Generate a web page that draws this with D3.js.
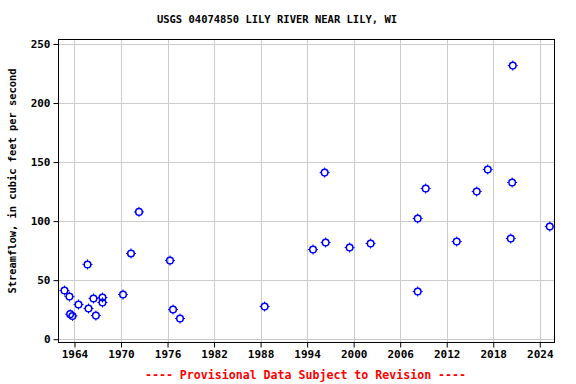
<!DOCTYPE html>
<html><head><meta charset="utf-8">
<script src="https://cdn.jsdelivr.net/npm/d3@7"></script>
<style>body{margin:0;background:#fff;} svg{display:block;} text{font-family:"DejaVu Sans Mono",monospace;font-weight:bold;}</style>
</head><body>
<script>
const years = [1962.71,1963.35,1963.44,1963.74,1964.52,1965.68,1965.81,1966.45,1966.76,1967.61,1967.61,1970.26,1971.29,1972.32,1976.32,1976.71,1977.61,
  1988.52,1994.76,1996.26,1996.39,1999.48,2002.19,
  2008.26,2008.26,2009.29,2013.29,2015.87,2017.29,2020.26,2020.44,2020.52,2025.29];
const flows = [41.2,36.1,21.2,19.7,29.4,63.3,26.0,34.5,20.0,35.3,31.1,37.8,72.6,107.8,66.6,25.1,17.5,
  27.7,75.9,141.1,81.9,77.6,81.0,
  40.4,102.2,127.6,82.7,125.1,143.7,85.3,132.7,231.7,95.4];
const xTicks = [1964,1970,1976,1982,1988,1994,2000,2006,2012,2018,2024];
const yTicks = [0,50,100,150,200,250];
const title = "USGS 04074850 LILY RIVER NEAR LILY, WI";
const yLabel = "Streamflow, in cubic feet per second";
const footer = "---- Provisional Data Subject to Revision ----";

const W=576,H=384, L=58.5, R=554.5, T=39.5, B=342.5;
const svg = d3.select("body").append("svg").attr("width",W).attr("height",H);
const x = d3.scaleLinear().domain([1961.94,2025.9]).range([L,R]);
const y = d3.scaleLinear().domain([-2.8,253.8]).range([B,T]);

// grid
svg.append("g").selectAll("line").data(xTicks).join("line")
  .attr("x1",d=>Math.round(x(d))+0.5).attr("x2",d=>Math.round(x(d))+0.5)
  .attr("y1",T).attr("y2",B).attr("stroke","#cccccc").attr("stroke-width",1);
svg.append("g").selectAll("line").data(yTicks).join("line")
  .attr("y1",d=>Math.round(y(d))+0.5).attr("y2",d=>Math.round(y(d))+0.5)
  .attr("x1",L).attr("x2",R).attr("stroke","#cccccc").attr("stroke-width",1);

// axes
const xa = svg.append("g").attr("transform",`translate(0,${B})`)
  .call(d3.axisBottom(x).tickValues(xTicks).tickFormat(d3.format("d")).tickSize(5).tickSizeOuter(0));
const ya = svg.append("g").attr("transform",`translate(${L},0)`)
  .call(d3.axisLeft(y).tickValues(yTicks).tickSize(5).tickSizeOuter(0));
[xa,ya].forEach(g=>{g.select(".domain").remove(); g.selectAll("line").attr("stroke","#000");
  g.selectAll("text").attr("font-size","11px").attr("font-weight","bold").attr("fill","#000")
   .style("font-family","'DejaVu Sans Mono',monospace");});
xa.selectAll("text").attr("dy","0.9em").attr("y",6);
ya.selectAll("text").attr("x",-8);

svg.append("rect").attr("x",L).attr("y",T).attr("width",R-L).attr("height",B-T)
  .attr("fill","none").attr("stroke","#000").attr("stroke-width",1);

// points
const pts = svg.append("g").selectAll("g").data(years.map((d,i)=>[d,flows[i]])).join("g")
  .attr("transform",d=>`translate(${x(d[0])},${y(d[1])})`);
pts.append("circle").attr("r",3.3).attr("fill","none").attr("stroke","#0000ff").attr("stroke-width",1.5);
[[0,-5,0,-3.5],[0,3.5,0,5],[-5,0,-3.5,0],[3.5,0,5,0]].forEach(s=>{
  pts.append("line").attr("x1",s[0]).attr("y1",s[1]).attr("x2",s[2]).attr("y2",s[3])
    .attr("stroke","#0000ff").attr("stroke-width",1);
});

svg.append("text").attr("x",277).attr("y",23).attr("text-anchor","middle")
  .attr("font-size","10.5px").text(title);
svg.append("text").attr("transform","translate(16,181) rotate(-90)").attr("text-anchor","middle")
  .attr("font-size","10.4px").text(yLabel);
svg.append("text").attr("x",305.5).attr("y",379).attr("text-anchor","middle")
  .attr("font-size","11.6px").attr("fill","#ff0000").text(footer);
</script>
</body></html>
